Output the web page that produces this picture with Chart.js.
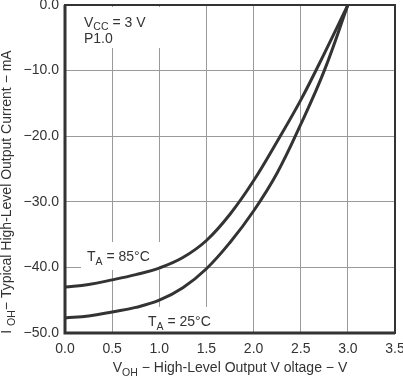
<!DOCTYPE html>
<html>
<head>
<meta charset="utf-8">
<script src="https://cdn.jsdelivr.net/npm/chart.js@4/dist/chart.umd.min.js"></script>
<style>
html,body{margin:0;padding:0;background:#fff;overflow:hidden;}
#wrap{width:403px;height:377px;position:relative;}
</style>
</head>
<body>
<div id="wrap"><canvas id="c" width="403" height="377"></canvas></div>
<script>
const voltage = [0, 0.25, 0.5, 0.75, 1.0, 1.25, 1.5, 1.75, 2.0, 2.25, 2.5, 2.75, 3.0];
const current85 = [-43.0, -42.6, -41.9, -41.1, -40.1, -38.5, -35.9, -31.9, -26.8, -20.8, -14.5, -7.4, 0];
const current25 = [-47.7, -47.4, -46.8, -46.1, -45.0, -43.1, -40.2, -36.2, -31.4, -25.6, -18.2, -10.0, 0];
const xTicks = [0, 0.5, 1.0, 1.5, 2.0, 2.5, 3.0, 3.5];
const yTicks = [0, -10, -20, -30, -40, -50];

const FONT = '"Liberation Sans", Arial, sans-serif';
const INK = '#333333';

function richWidth(ctx, segs, size) {
  let w = 0;
  for (const s of segs) {
    ctx.font = (s.sub ? size * 0.75 : size) + 'px ' + FONT;
    w += ctx.measureText(s.t).width;
  }
  return w;
}
function drawRich(ctx, segs, x, y, size) {
  let cx = x;
  ctx.textBaseline = 'alphabetic';
  ctx.textAlign = 'left';
  for (const s of segs) {
    ctx.font = (s.sub ? size * 0.75 : size) + 'px ' + FONT;
    ctx.fillText(s.t, cx, s.sub ? y + size * 0.25 : y);
    cx += ctx.measureText(s.t).width;
  }
}

const annot = {
  id: 'annot',
  beforeDatasetsDraw(chart) {
    const ctx = chart.ctx;
    ctx.save();
    ctx.fillStyle = '#ffffff';
    ctx.fillRect(80, 7, 80, 41);
    ctx.fillRect(81, 242, 82, 28);
    ctx.fillRect(144, 307, 72, 25);
    ctx.restore();
  },
  afterDatasetsDraw(chart) {
    const ctx = chart.ctx;
    const a = chart.chartArea;
    ctx.save();
    ctx.fillStyle = INK;
    drawRich(ctx, [{t:'V'},{t:'CC',sub:true},{t:' = 3 V'}], 84, 26.5, 14);
    drawRich(ctx, [{t:'P1.0'}], 84, 43, 14);
    drawRich(ctx, [{t:'T'},{t:'A',sub:true},{t:' = 85°C'}], 87, 261, 14);
    drawRich(ctx, [{t:'T'},{t:'A',sub:true},{t:' = 25°C'}], 148, 326, 14);
    // x title
    const xs = [{t:'V'},{t:'OH',sub:true},{t:' − High-Level Output V oltage − V'}];
    const xw = richWidth(ctx, xs, 14);
    drawRich(ctx, xs, (a.left + a.right) / 2 - xw / 2, 372, 14);
    // y title
    const ys = [{t:'I '},{t:'OH',sub:true},{t:'− Typical High-Level Output Current − mA'}];
    const yw = richWidth(ctx, ys, 14);
    ctx.translate(11, 192);
    ctx.rotate(-Math.PI / 2);
    drawRich(ctx, ys, -yw / 2, 0, 14);
    ctx.restore();
    // frame
    ctx.save();
    ctx.strokeStyle = INK;
    ctx.lineWidth = 2;
    ctx.strokeRect(a.left, a.top, a.right - a.left, a.bottom - a.top);
    ctx.lineWidth = 3;
    ctx.beginPath();
    ctx.moveTo(a.left, a.top);
    ctx.lineTo(a.left, a.bottom);
    ctx.lineTo(a.right, a.bottom);
    ctx.stroke();
    ctx.restore();
  }
};

new Chart(document.getElementById('c'), {
  type: 'line',
  data: {
    datasets: [
      { label: 'TA = 85°C', data: voltage.map((v, i) => ({x: v, y: current85[i]})),
        borderColor: INK, borderWidth: 3, pointRadius: 0, fill: false, tension: 0.4 },
      { label: 'TA = 25°C', data: voltage.map((v, i) => ({x: v, y: current25[i]})),
        borderColor: INK, borderWidth: 3, pointRadius: 0, fill: false, tension: 0.4 }
    ]
  },
  options: {
    responsive: false,
    animation: false,
    devicePixelRatio: 1,
    layout: { padding: { left: 0, right: 8, top: 5, bottom: 0 } },
    plugins: { legend: { display: false }, tooltip: { enabled: false } },
    scales: {
      x: {
        type: 'linear', min: 0, max: 3.5,
        afterBuildTicks(s) { s.ticks = xTicks.map(v => ({value: v})); },
        afterFit(s) { s.height = 44; s.paddingLeft = 0; s.paddingRight = 0; },
        ticks: { color: INK, font: { family: FONT, size: 14 }, padding: 8,
                 callback: v => v.toFixed(1), maxRotation: 0, autoSkip: false },
        grid: { color: '#9a9a9a', lineWidth: 1, drawTicks: false },
        border: { display: false }
      },
      y: {
        type: 'linear', min: -50, max: 0,
        afterBuildTicks(s) { s.ticks = yTicks.map(v => ({value: v})); },
        afterFit(s) { s.width = 65; s.paddingTop = 0; s.paddingBottom = 0; },
        ticks: { color: INK, font: { family: FONT, size: 14 }, padding: 6,
                 callback: v => (v < 0 ? '−' + Math.abs(v).toFixed(1) : v.toFixed(1)), autoSkip: false },
        grid: { color: '#9a9a9a', lineWidth: 1, drawTicks: false },
        border: { display: false }
      }
    }
  },
  plugins: [annot]
});
</script>
</body>
</html>
